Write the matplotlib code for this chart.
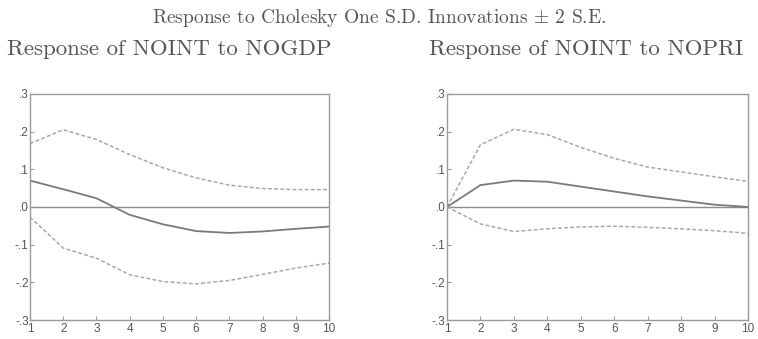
import numpy as np
import matplotlib
matplotlib.use("Agg")
from matplotlib import pyplot as plt
from matplotlib.ticker import FuncFormatter

periods = list(range(1, 11))

# response of NOINT to NOGDP
gdp_resp = [0.070, 0.047, 0.023, -0.021, -0.046, -0.064, -0.069, -0.065, -0.058, -0.052]
gdp_upper = [0.168, 0.205, 0.179, 0.139, 0.104, 0.077, 0.058, 0.049, 0.046, 0.046]
gdp_lower = [-0.027, -0.109, -0.136, -0.180, -0.198, -0.204, -0.195, -0.179, -0.162, -0.149]

# response of NOINT to NOPRI
pri_resp = [0.0, 0.058, 0.070, 0.067, 0.054, 0.041, 0.028, 0.017, 0.006, 0.0]
pri_upper = [0.0, 0.165, 0.206, 0.192, 0.158, 0.129, 0.106, 0.093, 0.080, 0.068]
pri_lower = [0.0, -0.045, -0.065, -0.058, -0.053, -0.051, -0.054, -0.058, -0.063, -0.070]

yticks = [-0.3, -0.2, -0.1, 0.0, 0.1, 0.2, 0.3]

plt.rcParams['mathtext.fontset'] = 'cm'


def fmt(v, pos):
    s = "%.1f" % v
    if s.startswith("0"):
        s = s[1:]
    elif s.startswith("-0"):
        s = "-" + s[2:]
    return s


def draw(ax, resp, upper, lower):
    frame = "#9a9a9a"
    ax.axhline(0, color="#8c8c8c", lw=1.0, zorder=1)
    ax.plot(periods, upper, color="#a8a8a8", lw=1.1, ls=(0, (2.5, 1.5)))
    ax.plot(periods, lower, color="#a8a8a8", lw=1.1, ls=(0, (2.5, 1.5)))
    ax.plot(periods, resp, color="#7a7a7a", lw=1.3)
    ax.set_xlim(1, 10)
    ax.set_ylim(-0.3, 0.3)
    ax.set_xticks(periods)
    ax.set_yticks(yticks)
    ax.yaxis.set_major_formatter(FuncFormatter(fmt))
    for sp in ax.spines.values():
        sp.set_color(frame)
        sp.set_linewidth(1.0)
    ax.tick_params(direction="in", length=3, color=frame, labelcolor="#555555",
                   labelsize=8.5, pad=1)
    ax.tick_params(axis="x", pad=2.5)
    for lab in ax.get_xticklabels() + ax.get_yticklabels():
        lab.set_family("Liberation Sans")


fig = plt.figure(figsize=(7.58, 3.39), dpi=100)
ax1 = fig.add_axes([0.0396, 0.056, 0.3945, 0.667])
ax2 = fig.add_axes([0.5897, 0.056, 0.3971, 0.667])
draw(ax1, gdp_resp, gdp_upper, gdp_lower)
draw(ax2, pri_resp, pri_upper, pri_lower)

title_color = "#555555"
fig.text(0.5, 0.948, r"Response to Cholesky One S.D. Innovations $\pm$ 2 S.E.",
         ha="center", va="center", fontsize=14, family="cmr10", color=title_color)
fig.text(0.223, 0.855, "Response of NOINT to NOGDP", ha="center", va="center",
         fontsize=16.5, family="cmr10", color=title_color)
fig.text(0.773, 0.855, "Response of NOINT to NOPRI", ha="center", va="center",
         fontsize=16.5, family="cmr10", color=title_color)

fig.savefig("out.png", dpi=100)
